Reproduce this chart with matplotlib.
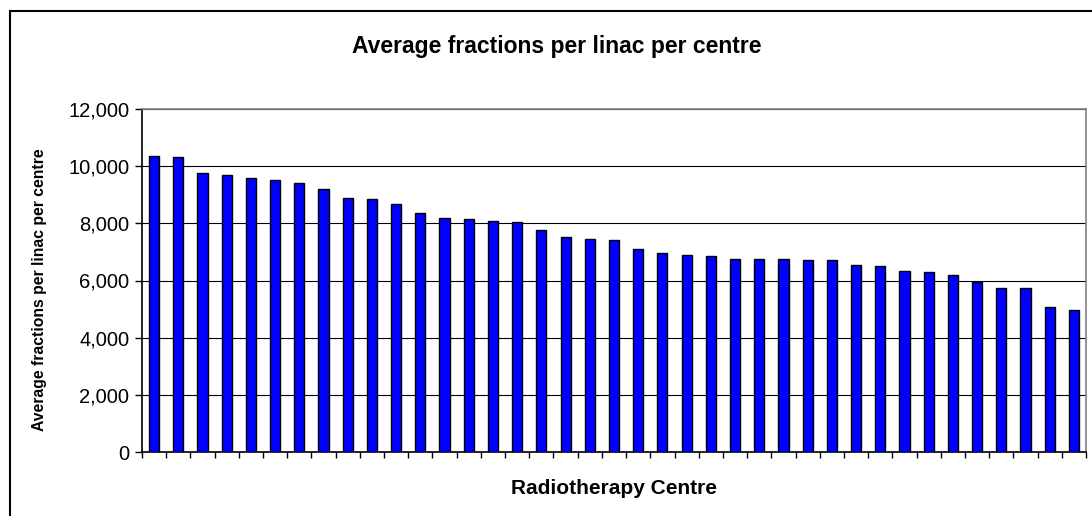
import numpy as np
import matplotlib.pyplot as plt
from matplotlib.patches import Rectangle
from matplotlib.ticker import FuncFormatter

# average fractions per linac, one bar per centre (sorted descending)
centres = [f"Centre {i + 1}" for i in range(39)]
fractions = [10360, 10314, 9767, 9674, 9570, 9512, 9407, 9209, 8884, 8837,
             8674, 8372, 8198, 8150, 8092, 8035, 7780, 7514, 7468, 7410,
             7098, 6948, 6890, 6844, 6745, 6750, 6750, 6706, 6706, 6553,
             6494, 6329, 6282, 6176, 5965, 5753, 5753, 5059, 4953]
y_ticks = [0, 2000, 4000, 6000, 8000, 10000, 12000]

plt.rcParams['font.family'] = ['Liberation Sans', 'DejaVu Sans']

W, H = 1092, 516
fig = plt.figure(figsize=(W / 100, H / 100), dpi=100)
ax = fig.add_axes([142 / W, 1 - 452 / H, (1086 - 142) / W, (452 - 109) / H])

x = np.arange(len(centres))
ax.bar(x, fractions, width=0.42, color='#0000ff', edgecolor='black', linewidth=1, zorder=3)

ax.set_xlim(-0.5, len(centres) - 0.5)
ax.set_ylim(0, 12000)
ax.set_yticks(y_ticks)
ax.yaxis.set_major_formatter(FuncFormatter(lambda v, p: f"{int(v):,}"))
ax.set_xticks(np.arange(-0.5, len(centres), 1))
ax.set_xticklabels([])
ax.tick_params(axis='x', direction='out', length=4, width=1, color='black')
ax.tick_params(axis='y', direction='out', length=5, width=1, color='black', labelsize=14.5, pad=4)
ax.grid(axis='y', color='black', linewidth=0.8, zorder=0)

ax.spines['left'].set_color('black')
ax.spines['bottom'].set_color('black')
ax.spines['top'].set_color('#808080')
ax.spines['right'].set_color('#808080')
for s in ax.spines.values():
    s.set_linewidth(1.2)

fig.text(557 / W, 1 - 47 / H, 'Average fractions per linac per centre',
         ha='center', va='center', fontsize=16.5, fontweight='bold')
fig.text(614 / W, 1 - 488 / H, 'Radiotherapy Centre',
         ha='center', va='center', fontsize=15, fontweight='bold')
fig.text(40 / W, 1 - 290 / H, 'Average fractions per linac per centre',
         ha='center', va='center', rotation=90, fontsize=11.3, fontweight='bold')

# chart area border (right and bottom edges fall outside the image)
fig.patches.append(Rectangle((9.5 / W, -0.1), 1.2, 1 - 11 / H + 0.1, transform=fig.transFigure,
                             fill=False, edgecolor='black', linewidth=1.5))

fig.savefig('out.png', dpi=100)
